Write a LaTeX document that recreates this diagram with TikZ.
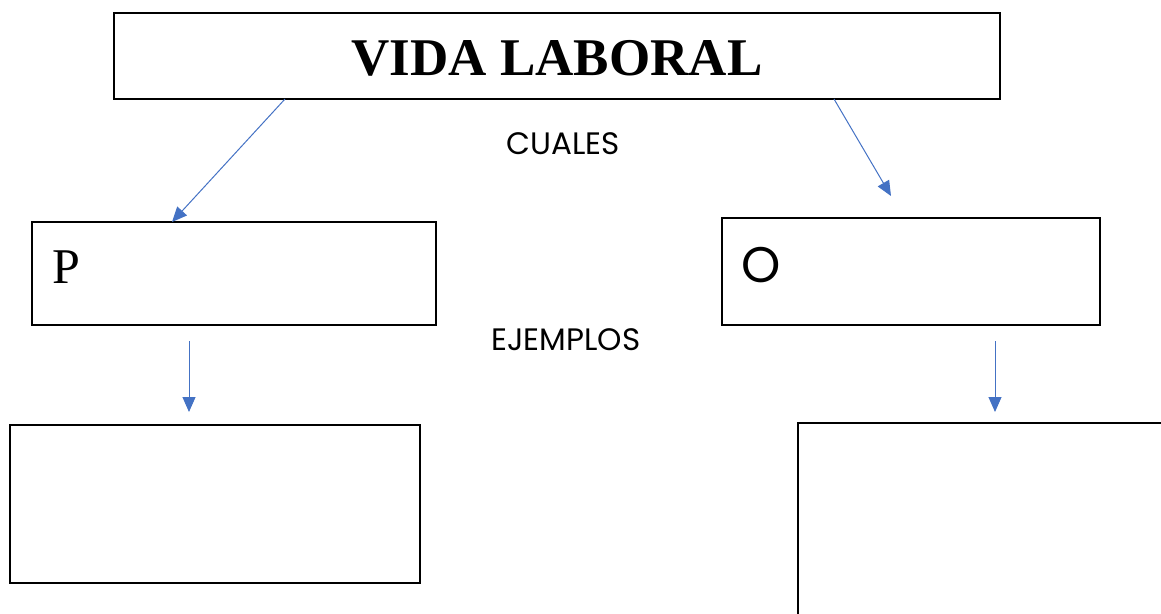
\documentclass[tikz,border=0pt]{standalone}
\usepackage{amssymb}
\usepackage{amsmath}
\usepackage{fontspec}
\setmainfont{Liberation Serif}
\newfontfamily\gotica{Poppins}
\usetikzlibrary{arrows.meta}
\definecolor{azul}{HTML}{4472C4}

\begin{document}
\begin{tikzpicture}[x=1pt, y=-1pt,
       caja/.style={draw=black, line width=1.3pt, rectangle, inner sep=0pt},
       flecha/.style={draw=azul, line width=1pt, -{Triangle[length=15pt,width=13pt]}},
       rotulo/.style={inner sep=0pt, anchor=base, font=\gotica\fontsize{31}{31}\selectfont}]
       \clip (0,0) rectangle (1161,613);

       \node(T)[caja, minimum width=886pt, minimum height=86pt] at (557,56) {};
       \node(NT)[inner sep=0pt, anchor=base] at (557,75) {\fontsize{53}{53}\selectfont\bfseries VIDA LABORAL};

       \node(P)[caja, minimum width=404pt, minimum height=103pt] at (234,273.5) {};
       \node(NP)[inner sep=0pt, anchor=base west] at (52,283) {\fontsize{50}{50}\selectfont P};

       \node(O)[caja, minimum width=378pt, minimum height=107pt] at (911,271.5) {};
       \node(NO)[inner sep=0pt, anchor=base west] at (741,282) {\gotica\fontsize{50}{50}\selectfont O};

       \node(EP)[caja, minimum width=410pt, minimum height=158pt] at (215,504) {};
       \node(EO)[caja, minimum width=420pt, minimum height=260pt] at (1008,553) {};

       \node(C)[rotulo] at (563,154) {CUALES};
       \node(E)[rotulo] at (566,350) {EJEMPLOS};

       \coordinate(T1) at (285,99);
       \coordinate(T2) at (834,99);
       \coordinate(P1) at (172,222);
       \coordinate(O1) at (891,196);
       \coordinate(P2) at (189,341);
       \coordinate(EP1) at (189,412);
       \coordinate(O2) at (995,341);
       \coordinate(EO1) at (995,412);

       \draw[flecha] (T1) -- (P1);
       \draw[flecha] (T2) -- (O1);
       \draw[flecha] (P2) -- (EP1);
       \draw[flecha] (O2) -- (EO1);
\end{tikzpicture}
\end{document}
